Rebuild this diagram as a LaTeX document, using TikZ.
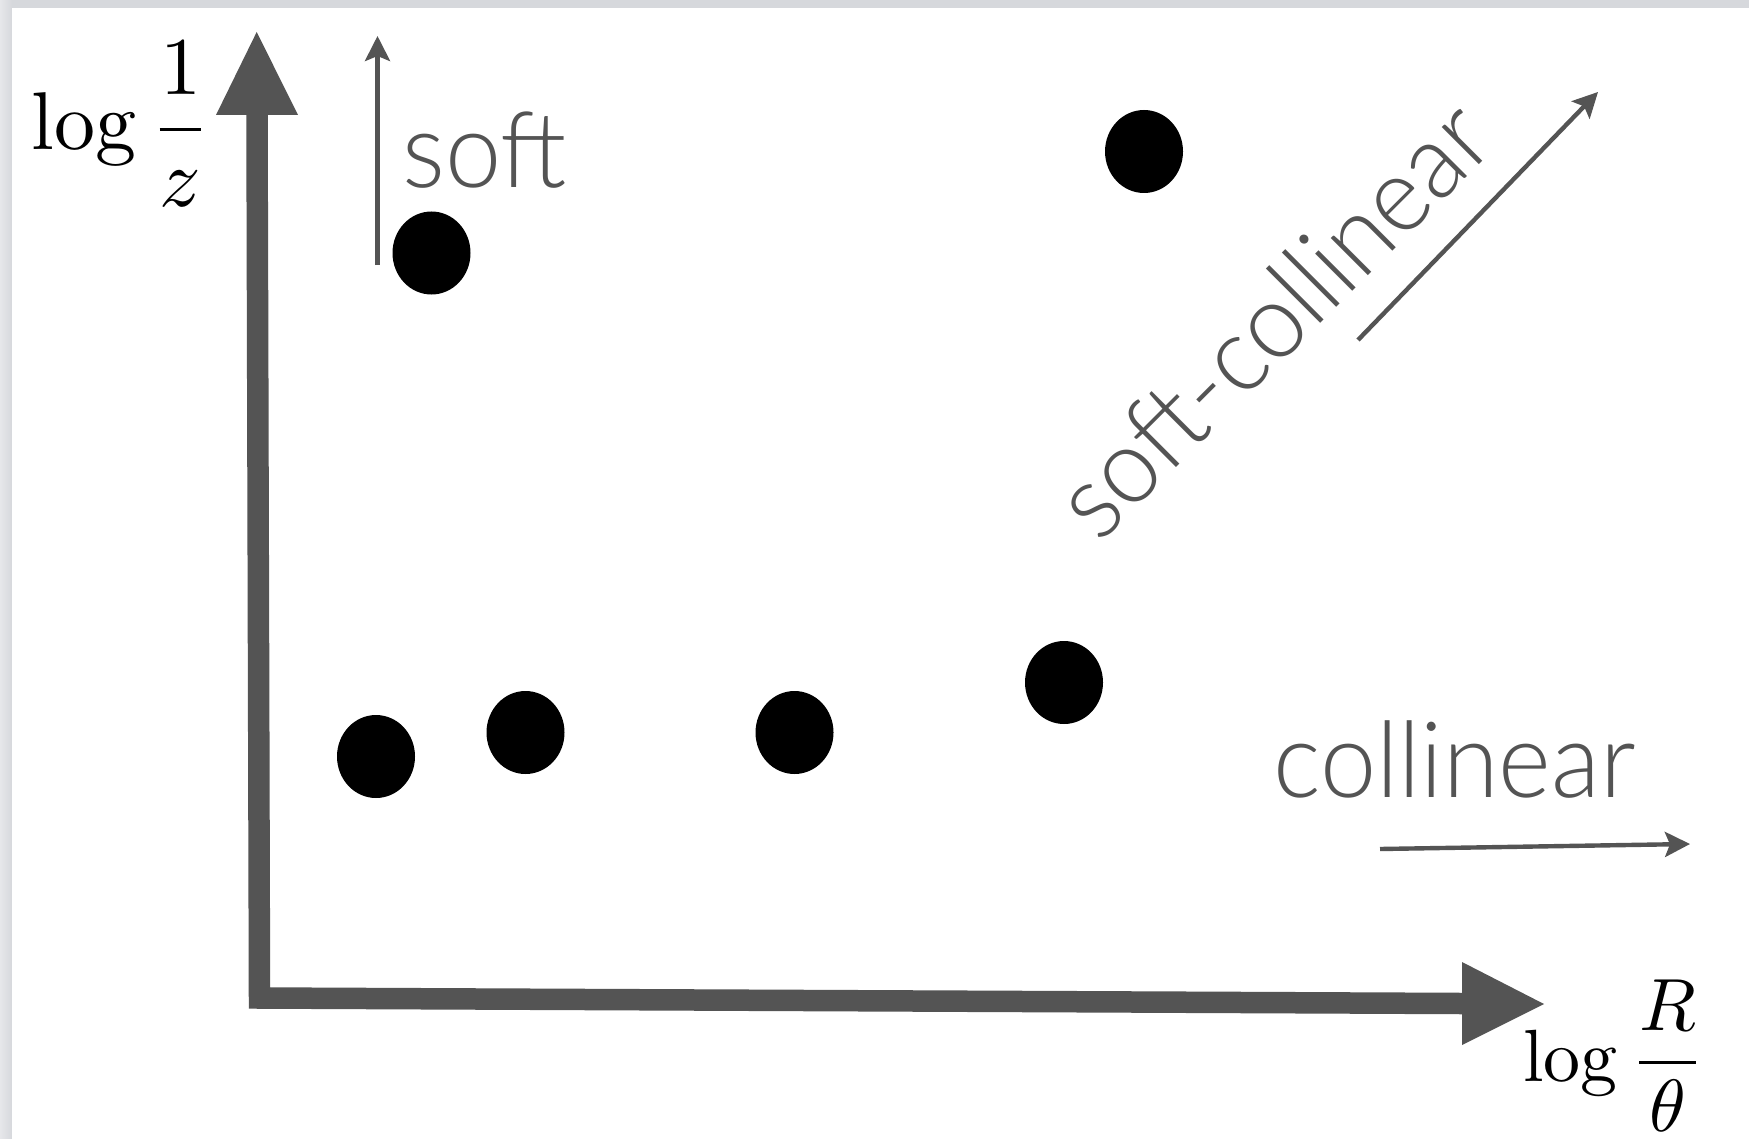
\documentclass[tikz,border=0pt]{standalone}
\usepackage{graphicx}
\usepackage{fontspec}
\usetikzlibrary{arrows.meta,shapes.geometric}
\newfontfamily\gillfont[FakeStretch=0.955]{Lato Light}
\definecolor{axisgray}{RGB}{84,84,84}
\definecolor{bandgray}{RGB}{214,216,220}
\definecolor{bandlight}{RGB}{230,231,234}
\begin{document}
\begin{tikzpicture}[x=0.5pt,y=-0.5pt,
  axis/.style={line width=10.75pt, draw=axisgray, miter limit=10},
  axishead/.style={fill=axisgray},
  thinarrow/.style={draw=axisgray, line width=2.2pt, -{Stealth[length=12.5pt,width=12.5pt,inset=2.5pt]}},
  dot/.style={ellipse, fill=black, minimum width=39pt, minimum height=41.5pt, inner sep=0pt},
  lbl/.style={text=axisgray, font=\gillfont\fontsize{52.8}{60}\selectfont, inner sep=0pt},
  mathlbl/.style={inner sep=0pt, text=black}]
\useasboundingbox (0,0) rectangle (1749,1139);
% background bands
\fill[bandgray] (0,0) rectangle (1749,1139);
\shade[left color=bandlight, right color=bandgray] (0,0) rectangle (12,1139);
\fill[white] (12,8) rectangle (1749,1139);
% axes
\coordinate (ytip) at (256.7,32);
\coordinate (yhl) at (216,115);
\coordinate (yhr) at (298,115);
\coordinate (ybase) at (257,115);
\coordinate (origin) at (259.5,998);
\coordinate (xbase) at (1462,1003.5);
\coordinate (xtip) at (1544,1004);
\coordinate (xht) at (1462,962);
\coordinate (xhb) at (1462,1045);
\draw[axis] (ybase) -- (origin) -- (xbase);
\fill[axishead] (ytip) -- (yhl) -- (yhr) -- cycle;
\fill[axishead] (xtip) -- (xht) -- (xhb) -- cycle;
% axis labels
\node[mathlbl, anchor=base west] (ylab) at (31,150) {\scalebox{4.1}{$\displaystyle\log\frac{1}{z}$}};
\node[mathlbl, anchor=base west] (xlab) at (1523,1081) {\scalebox{3.7}{$\displaystyle\log\frac{R}{\theta}$}};
% dots
\node[dot] (dsoft) at (431.5,253) {};
\node[dot] (da) at (376,756.5) {};
\node[dot] (db) at (525.5,732.5) {};
\node[dot] (dc) at (794.5,732.5) {};
\node[dot] (dd) at (1064,682.5) {};
\node[dot] (de) at (1144,151.5) {};
% direction arrows
\coordinate (softtail) at (377.5,265);
\coordinate (softtip) at (377.5,36);
\draw[thinarrow] (softtail) -- (softtip);
\coordinate (colltail) at (1380,849);
\coordinate (colltip) at (1690,844);
\draw[thinarrow] (colltail) -- (colltip);
\coordinate (sctail) at (1358,340);
\coordinate (sctip) at (1598,92);
\draw[thinarrow] (sctail) -- (sctip);
% labels
\node[lbl, anchor=base west] (soft) at (402,188) {soft};
\node[lbl, anchor=base west] (coll) at (1273,797) {collinear};
\node[lbl, anchor=base west, rotate=45] (sc) at (1099,545) {soft-collinear};
\end{tikzpicture}
\end{document}
